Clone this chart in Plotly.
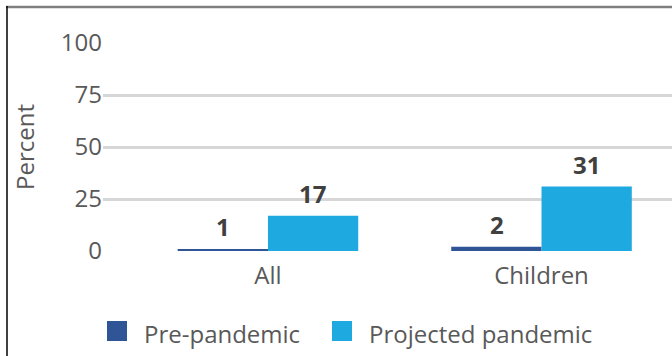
import plotly.graph_objects as go

# Chart data
categories = ["All", "Children"]
pre_pandemic = [1, 2]
projected_pandemic = [17, 31]
series_names = ["Pre-pandemic", "Projected pandemic"]
series_colors = ["#2F5597", "#1FA9E1"]
y_ticks = [0, 25, 50, 75, 100]

# Canvas and plot-area geometry (pixels)
W, H = 672, 356
ML, MR, MT, MB = 103, 0, 43, 105
PW = W - ML - MR
PH = H - MT - MB

FONT = "Open Sans"
GREY_TEXT = "#595959"
DARK_TEXT = "#404040"


def px_x(px):
    return (px - ML) / PW


def px_y(py):
    return (H - MB - py) / PH


fig = go.Figure()
series_values = [pre_pandemic, projected_pandemic]
for name, vals, color in zip(series_names, series_values, series_colors):
    fig.add_trace(go.Bar(
        x=categories, y=vals, name=name,
        marker=dict(color=color, line=dict(width=0)),
        showlegend=False, hoverinfo="x+y+name",
    ))

# Value labels above each bar
annotations = []
bar_half = 45
for i, vals in enumerate(series_values):
    shift = -bar_half if i == 0 else bar_half
    for cat, v in zip(categories, vals):
        annotations.append(dict(
            x=cat, y=v, xref="x", yref="y", text=f"<b>{v}</b>",
            showarrow=False, xanchor="center", yanchor="bottom",
            xshift=shift, yshift=4,
            font=dict(family=FONT, size=24, color=DARK_TEXT),
        ))

# Legend drawn as coloured squares with labels underneath the plot
legend_items = [(107, 142), (332, 367)]
shapes = []
for (sq_x, txt_x), name, color in zip(legend_items, series_names, series_colors):
    shapes.append(dict(
        type="rect", xref="paper", yref="paper",
        x0=px_x(sq_x), x1=px_x(sq_x + 20), y0=px_y(341), y1=px_y(321),
        fillcolor=color, line=dict(width=0), layer="above",
    ))
    annotations.append(dict(
        x=px_x(txt_x), y=px_y(333), xref="paper", yref="paper",
        text=name, showarrow=False, xanchor="left", yanchor="middle",
        font=dict(family=FONT, size=24, color=GREY_TEXT),
    ))

# Frame: grey top edge, black left edge
shapes.append(dict(type="line", xref="paper", yref="paper",
                   x0=px_x(6), x1=px_x(672), y0=px_y(7), y1=px_y(7),
                   line=dict(color="#7F7F7F", width=2.5)))
shapes.append(dict(type="line", xref="paper", yref="paper",
                   x0=px_x(7), x1=px_x(7), y0=px_y(6), y1=px_y(H + 20),
                   line=dict(color="#000000", width=1.5)))

fig.update_layout(
    width=W, height=H,
    margin=dict(l=ML, r=MR, t=MT, b=MB, pad=0),
    paper_bgcolor="white", plot_bgcolor="white",
    barmode="group", bargap=0.34, bargroupgap=0,
    font=dict(family=FONT, size=24, color=GREY_TEXT),
    annotations=annotations, shapes=shapes,
    xaxis=dict(
        type="category", range=[-0.603, 1.477],
        showgrid=False, zeroline=False, showline=False, ticks="",
        tickfont=dict(family=FONT, size=24, color=GREY_TEXT),
        ticklabelstandoff=8,
        fixedrange=True,
    ),
    yaxis=dict(
        range=[0, 100], tickvals=y_ticks,
        showgrid=True, gridcolor="#D6D6D6", gridwidth=2.5,
        zeroline=False, showline=False, ticks="",
        tickfont=dict(family=FONT, size=24, color=GREY_TEXT),
        title=dict(text="Percent", standoff=19,
                   font=dict(family=FONT, size=24, color=GREY_TEXT)),
        automargin=False, fixedrange=True,
    ),
)

fig.write_html("out.html")
